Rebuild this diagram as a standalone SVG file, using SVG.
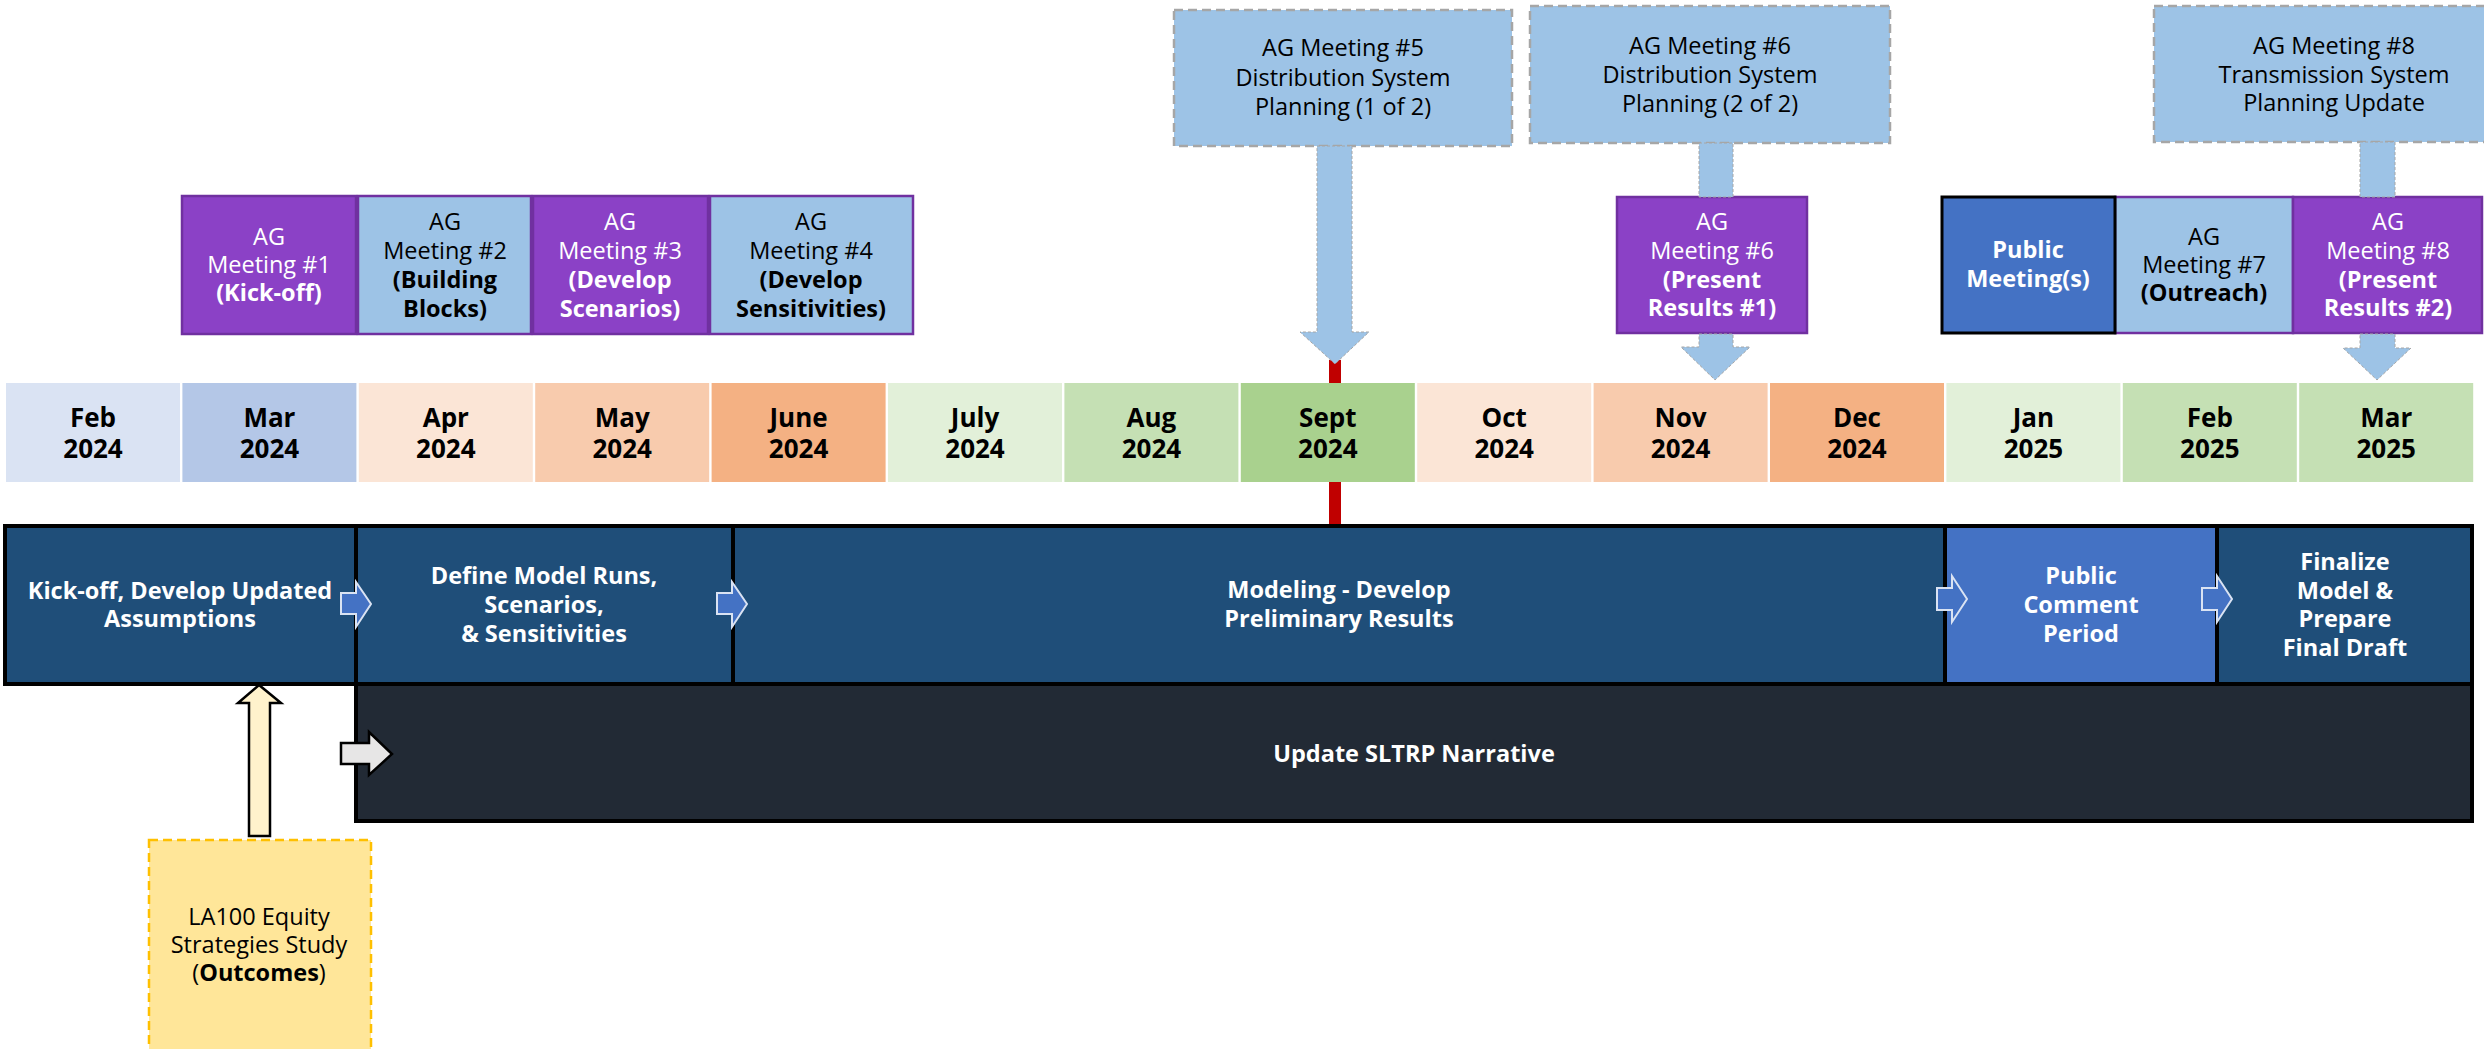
<svg xmlns="http://www.w3.org/2000/svg" width="2484" height="1049" viewBox="0 0 2484 1049">
  <style>
    text { font-family: "Open Sans", "Liberation Sans", sans-serif; text-anchor: middle; }
    .mon { font-size: 26px; font-weight: 700; fill: #000; }
    .ag { font-size: 23.5px; }
    .w { fill: #fff; }
    .k { fill: #000; }
    .b { font-weight: 700; }
    .purple { fill: #8B41C6; stroke: #7030A0; stroke-width: 2.5; }
    .lblue { fill: #9DC3E6; stroke: #7030A0; stroke-width: 2.5; }
    .dash { fill: #9DC3E6; stroke: #A6A6A6; stroke-width: 2.5; stroke-dasharray: 9 5; }
    .phase { fill: #1F4E79; stroke: #000; stroke-width: 4; }
    .phase2 { fill: #4472C4; stroke: #000; stroke-width: 4; }
    .narr { fill: #222A35; stroke: #000; stroke-width: 4; }
    .task { font-size: 23.5px; font-weight: 700; fill: #fff; }
    .down { fill: #9DC3E6; stroke: #A6A6A6; stroke-width: 1; stroke-dasharray: 3 2; }
    .chev { fill: #4472C4; stroke: #DAE3F3; stroke-width: 2; }
  </style>

  <!-- month timeline -->
  <g id="months">
    <g id="m-feb-2024"><rect x="6" y="383" width="174" height="99" fill="#DAE3F3"/><text class="mon" x="93" y="427">Feb</text><text class="mon" x="93" y="458">2024</text></g>
    <g id="m-mar-2024"><rect x="182.4" y="383" width="174" height="99" fill="#B4C7E7"/><text class="mon" x="269.4" y="427">Mar</text><text class="mon" x="269.4" y="458">2024</text></g>
    <g id="m-apr-2024"><rect x="358.8" y="383" width="174" height="99" fill="#FBE5D6"/><text class="mon" x="445.8" y="427">Apr</text><text class="mon" x="445.8" y="458">2024</text></g>
    <g id="m-may-2024"><rect x="535.2" y="383" width="174" height="99" fill="#F8CBAD"/><text class="mon" x="622.2" y="427">May</text><text class="mon" x="622.2" y="458">2024</text></g>
    <g id="m-jun-2024"><rect x="711.6" y="383" width="174" height="99" fill="#F4B183"/><text class="mon" x="798.6" y="427">June</text><text class="mon" x="798.6" y="458">2024</text></g>
    <g id="m-jul-2024"><rect x="888" y="383" width="174" height="99" fill="#E2F0D9"/><text class="mon" x="975" y="427">July</text><text class="mon" x="975" y="458">2024</text></g>
    <g id="m-aug-2024"><rect x="1064.4" y="383" width="174" height="99" fill="#C5E0B4"/><text class="mon" x="1151.4" y="427">Aug</text><text class="mon" x="1151.4" y="458">2024</text></g>
    <g id="m-sep-2024"><rect x="1240.8" y="383" width="174" height="99" fill="#A9D18E"/><text class="mon" x="1327.8" y="427">Sept</text><text class="mon" x="1327.8" y="458">2024</text></g>
    <g id="m-oct-2024"><rect x="1417.2" y="383" width="174" height="99" fill="#FBE5D6"/><text class="mon" x="1504.2" y="427">Oct</text><text class="mon" x="1504.2" y="458">2024</text></g>
    <g id="m-nov-2024"><rect x="1593.6" y="383" width="174" height="99" fill="#F8CBAD"/><text class="mon" x="1680.6" y="427">Nov</text><text class="mon" x="1680.6" y="458">2024</text></g>
    <g id="m-dec-2024"><rect x="1770" y="383" width="174" height="99" fill="#F4B183"/><text class="mon" x="1857" y="427">Dec</text><text class="mon" x="1857" y="458">2024</text></g>
    <g id="m-jan-2025"><rect x="1946.4" y="383" width="174" height="99" fill="#E2F0D9"/><text class="mon" x="2033.4" y="427">Jan</text><text class="mon" x="2033.4" y="458">2025</text></g>
    <g id="m-feb-2025"><rect x="2122.8" y="383" width="174" height="99" fill="#C5E0B4"/><text class="mon" x="2209.8" y="427">Feb</text><text class="mon" x="2209.8" y="458">2025</text></g>
    <g id="m-mar-2025"><rect x="2299.2" y="383" width="174" height="99" fill="#C5E0B4"/><text class="mon" x="2386.2" y="427">Mar</text><text class="mon" x="2386.2" y="458">2025</text></g>
  </g>

  <!-- advisory group meetings -->
  <g id="ag1"><rect class="purple" x="182" y="196" width="174" height="138"/>
    <text class="ag w" x="269" y="245">AG</text><text class="ag w" x="269" y="273">Meeting #1</text><text class="ag w b" x="269" y="301">(Kick-off)</text></g>
  <g id="ag2"><rect class="lblue" x="358" y="196" width="173" height="138"/>
    <text class="ag k" x="445" y="230">AG</text><text class="ag k" x="445" y="259">Meeting #2</text><text class="ag k b" x="445" y="288">(Building</text><text class="ag k b" x="445" y="317">Blocks)</text></g>
  <g id="ag3"><rect class="purple" x="533" y="196" width="175" height="138"/>
    <text class="ag w" x="620" y="230">AG</text><text class="ag w" x="620" y="259">Meeting #3</text><text class="ag w b" x="620" y="288">(Develop</text><text class="ag w b" x="620" y="317">Scenarios)</text></g>
  <g id="ag4"><rect class="lblue" x="710" y="196" width="203" height="138"/>
    <text class="ag k" x="811" y="230">AG</text><text class="ag k" x="811" y="259">Meeting #4</text><text class="ag k b" x="811" y="288">(Develop</text><text class="ag k b" x="811" y="317">Sensitivities)</text></g>

  <g id="ag5-dist"><rect class="dash" x="1174" y="10" width="338" height="136"/>
    <text class="ag k" x="1343" y="56">AG Meeting #5</text><text class="ag k" x="1343" y="86">Distribution System</text><text class="ag k" x="1343" y="115">Planning (1 of 2)</text></g>
  <g id="ag6-dist"><rect class="dash" x="1530" y="6" width="360" height="137"/>
    <text class="ag k" x="1710" y="54">AG Meeting #6</text><text class="ag k" x="1710" y="83">Distribution System</text><text class="ag k" x="1710" y="112">Planning (2 of 2)</text></g>
  <g id="ag8-trans"><rect class="dash" x="2154" y="6" width="360" height="136"/>
    <text class="ag k" x="2334" y="54">AG Meeting #8</text><text class="ag k" x="2334" y="83">Transmission System</text><text class="ag k" x="2334" y="111">Planning Update</text></g>

  <g id="ag6"><rect class="purple" x="1617" y="197" width="190" height="136"/>
    <text class="ag w" x="1712" y="230">AG</text><text class="ag w" x="1712" y="259">Meeting #6</text><text class="ag w b" x="1712" y="288">(Present</text><text class="ag w b" x="1712" y="316">Results #1)</text></g>
  <g id="ag7"><rect class="lblue" x="2115" y="197" width="178" height="136"/>
    <text class="ag k" x="2204" y="245">AG</text><text class="ag k" x="2204" y="273">Meeting #7</text><text class="ag k b" x="2204" y="301">(Outreach)</text></g>
  <g id="ag8"><rect class="purple" x="2293" y="197" width="189" height="136"/>
    <text class="ag w" x="2388" y="230">AG</text><text class="ag w" x="2388" y="259">Meeting #8</text><text class="ag w b" x="2388" y="288">(Present</text><text class="ag w b" x="2388" y="316">Results #2)</text></g>
  <g id="public-meetings"><rect x="1942" y="197" width="173" height="136" fill="#4472C4" stroke="#000" stroke-width="3"/>
    <text class="ag w b" x="2028" y="258">Public</text><text class="ag w b" x="2028" y="287">Meeting(s)</text></g>

  <!-- work phases -->
  <g id="narrative"><rect class="narr" x="356" y="684" width="2116" height="137"/>
    <text class="task" x="1414" y="762">Update SLTRP Narrative</text></g>
  <g id="phase-kickoff"><rect class="phase" x="5" y="526" width="351" height="158"/>
    <text class="task" x="180" y="599">Kick-off, Develop Updated</text><text class="task" x="180" y="627">Assumptions</text></g>
  <g id="phase-define"><rect class="phase" x="356" y="526" width="377" height="158"/>
    <text class="task" x="544" y="584">Define Model Runs,</text><text class="task" x="544" y="613">Scenarios,</text><text class="task" x="544" y="642">&amp; Sensitivities</text></g>
  <g id="phase-modeling"><rect class="phase" x="733" y="526" width="1212" height="158"/>
    <text class="task" x="1339" y="598">Modeling - Develop</text><text class="task" x="1339" y="627">Preliminary Results</text></g>
  <g id="phase-comment"><rect class="phase2" x="1945" y="526" width="272" height="158"/>
    <text class="task" x="2081" y="584">Public</text><text class="task" x="2081" y="613">Comment</text><text class="task" x="2081" y="642">Period</text></g>
  <g id="phase-finalize"><rect class="phase" x="2217" y="526" width="255" height="158"/>
    <text class="task" x="2345" y="570">Finalize</text><text class="task" x="2345" y="599">Model &amp;</text><text class="task" x="2345" y="627">Prepare</text><text class="task" x="2345" y="656">Final Draft</text></g>

  <g id="equity-study"><rect x="149" y="840" width="222" height="230" fill="#FFE699" stroke="#FFC000" stroke-width="2.5" stroke-dasharray="9 5"/>
    <text class="ag k" x="259" y="925">LA100 Equity</text><text class="ag k" x="259" y="953">Strategies Study</text><text class="ag k" x="259" y="981">(<tspan class="b">Outcomes</tspan>)</text></g>

  <!-- connectors -->
  <g id="connectors">
    <rect x="1329" y="360" width="12" height="23" fill="#C00000"/>
    <rect x="1329" y="482" width="12" height="42" fill="#C00000"/>
    <polygon class="down" points="1317,146 1352,146 1352,332 1369,332 1335,364 1300,332 1317,332"/>
    <rect class="down" x="1699" y="143" width="34" height="54"/>
    <polygon class="down" points="1699,334 1733,334 1733,347 1750,347 1715,380 1681,347 1699,347"/>
    <rect class="down" x="2360" y="142" width="35" height="55"/>
    <polygon class="down" points="2360,334 2395,334 2395,348 2411,348 2377,380 2343,348 2360,348"/>
    <polygon class="chev" points="341,593 356,593 356,582 371,604 356,627 356,614 341,614"/>
    <polygon class="chev" points="717,593 732,593 732,582 747,604 732,627 732,614 717,614"/>
    <polygon class="chev" points="1937,588 1952,588 1952,576 1967,599 1952,622 1952,610 1937,610"/>
    <polygon class="chev" points="2202,588 2217,588 2217,576 2232,599 2217,622 2217,610 2202,610"/>
    <polygon points="341,743 369,743 369,732 392,754 369,775 369,764 341,764" fill="#E7E6E6" stroke="#000" stroke-width="2.5"/>
    <polygon points="249,836 270,836 270,703 281,703 259,685 238,703 249,703" fill="#FFF2CC" stroke="#000" stroke-width="2.5"/>
  </g>
</svg>
